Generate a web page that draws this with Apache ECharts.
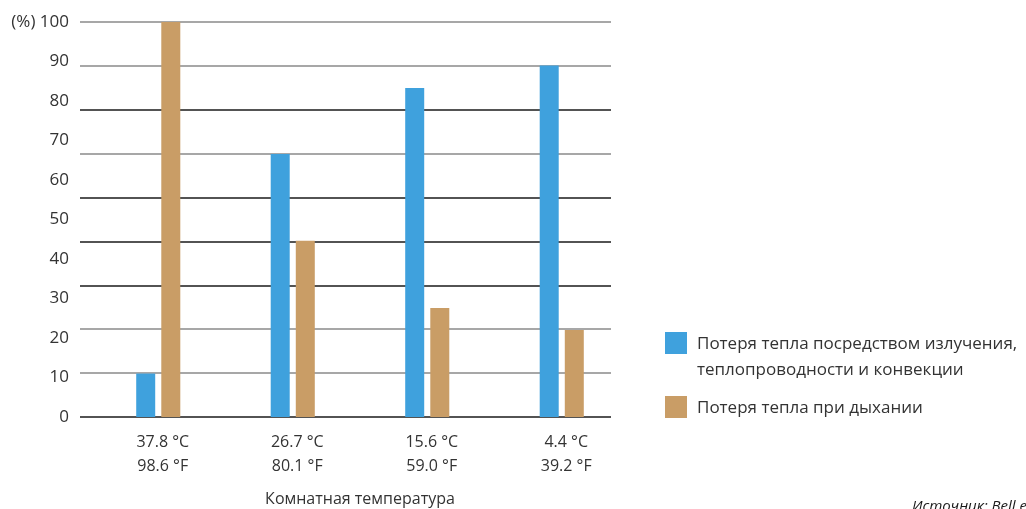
<!DOCTYPE html>
<html><head><meta charset="utf-8">
<script src="https://cdn.jsdelivr.net/npm/echarts@6/dist/echarts.min.js"></script>
<style>html,body{margin:0;padding:0;background:#fff}#c{width:1026px;height:509px}</style>
</head><body><div id="c"></div>
<script>
const categories = ['37.8 °C\n98.6 °F', '26.7 °C\n80.1 °F', '15.6 °C\n59.0 °F', '4.4 °C\n39.2 °F'];
const seriesNames = ['Потеря тепла посредством излучения,\nтеплопроводности и конвекции', 'Потеря тепла при дыхании'];
const radiationLoss = [11, 66.6, 83.3, 89];
const breathingLoss = [100, 44.6, 27.6, 22];
const yTicks = [0, 10, 20, 30, 40, 50, 60, 70, 80, 90, 100];
const xAxisTitle = 'Комнатная температура';
const sourceText = 'Источник: Bell et al.';
const colors = ['#3fa1dd', '#c99d66'];
const gridLineColors = ['#1a1a1a', '#8a8a8a', '#8a8a8a', '#1a1a1a', '#1a1a1a', '#1a1a1a', '#8a8a8a', '#1a1a1a', '#8a8a8a', '#8a8a8a'];

const FONT = '"Open Sans", "Noto Sans", sans-serif';
const chart = echarts.init(document.getElementById('c'), null, {renderer: 'canvas'});
chart.setOption({
  animation: false,
  textStyle: {fontFamily: FONT},
  grid: [
    {left: 91, top: 22, width: 538, height: 395, containLabel: false, outerBoundsMode: 'none'},
    {left: 80, top: 22, width: 531, height: 395, containLabel: false, outerBoundsMode: 'none'}
  ],
  xAxis: [
    {
      gridIndex: 0, type: 'category', data: categories,
      axisLine: {show: false}, axisTick: {show: false},
      axisLabel: {color: '#333', fontSize: 16, lineHeight: 24, margin: 13, padding: [0, 0, 0, 9], fontFamily: FONT},
      name: xAxisTitle, nameLocation: 'middle', nameGap: 74,
      nameTextStyle: {color: '#333', fontSize: 16, fontFamily: FONT}
    },
    {gridIndex: 1, type: 'value', min: 0, max: 1, show: false}
  ],
  yAxis: [
    {
      gridIndex: 0, type: 'value', min: yTicks[0], max: yTicks[yTicks.length - 1], interval: 10,
      axisLine: {show: false}, axisTick: {show: false}, splitLine: {show: false},
      axisLabel: {
        color: '#333', fontSize: 17, margin: 22, fontFamily: FONT,
        formatter: v => (v === 100 ? '(%) 100' : String(v))
      }
    },
    {
      gridIndex: 1, type: 'value', min: 0, max: 9, interval: 1,
      axisLine: {show: false}, axisTick: {show: false}, axisLabel: {show: false},
      splitLine: {show: true, lineStyle: {color: gridLineColors, width: 1.5}}
    }
  ],
  series: [
    {
      name: seriesNames[0], type: 'bar', data: radiationLoss, xAxisIndex: 0, yAxisIndex: 0,
      barWidth: 19, barGap: '32%', itemStyle: {color: colors[0]}, z: 5
    },
    {
      name: seriesNames[1], type: 'bar', data: breathingLoss, xAxisIndex: 0, yAxisIndex: 0,
      barWidth: 19, barGap: '32%', itemStyle: {color: colors[1]}, z: 5
    }
  ],
  graphic: [
    {type: 'rect', left: 665, top: 332, shape: {width: 22, height: 22}, style: {fill: colors[0]}},
    {type: 'text', left: 697, top: 331, style: {text: seriesNames[0], fill: '#333', font: '17px ' + FONT, lineHeight: 26}},
    {type: 'rect', left: 665, top: 396, shape: {width: 22, height: 22}, style: {fill: colors[1]}},
    {type: 'text', left: 697, top: 395, style: {text: seriesNames[1], fill: '#333', font: '17px ' + FONT, lineHeight: 26}},
    {type: 'text', left: 912, top: 499, style: {text: sourceText, fill: '#1a1a1a', font: 'italic 15px ' + FONT}}
  ]
});
</script></body></html>
